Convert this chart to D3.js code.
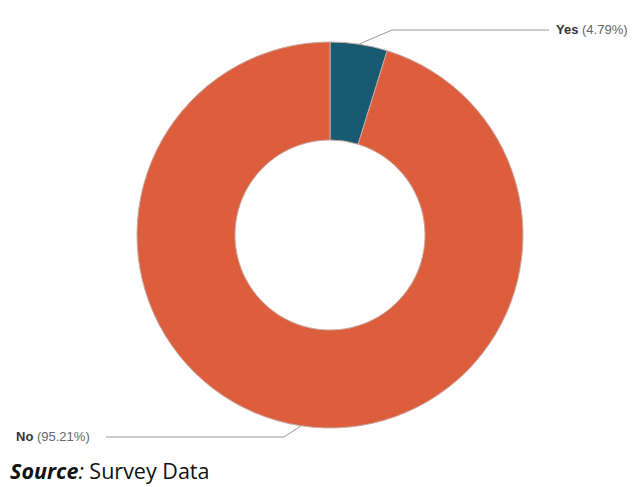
<!DOCTYPE html>
<html>
<head>
<meta charset="utf-8">
<script src="https://cdn.jsdelivr.net/npm/d3@7"></script>
<style>
  body { margin: 0; background: #fff; }
</style>
</head>
<body>
<div id="chart"></div>
<script>
const width = 639
const height = 487

const categories = ["Yes", "No"]
const values = [4.79, 95.21]
const colors = ["#175a72", "#dc5e3c"]

const center = {x: 330, y: 235}
const outerR = 193
const innerR = 95

const svg = d3.select("div#chart").append("svg").attr("width", width).attr("height", height)
const pieGroup = svg.append("g").attr("transform", `translate(${center.x}, ${center.y})`)

const data = categories.map((c, i) => ({name: c, value: values[i]}))
const pie = d3.pie().sort(null).value(d => d.value)
const arc = d3.arc().innerRadius(innerR).outerRadius(outerR)
const color = d3.scaleOrdinal().domain(categories).range(colors)

const arcs = pie(data)

pieGroup.selectAll("path").data(arcs).enter()
    .append("path")
    .attr("d", arc)
    .attr("fill", d => color(d.data.name))
    .attr("stroke", "#c9a9a4")
    .attr("stroke-width", 1)

// leader lines + labels (anchored at slice midpoints)
const labelPos = {
    Yes: {bend: [392, 30], end: [549, 30], text: [556, 34]},
    No: {bend: [284, 437], end: [106, 437], text: [16, 441]}
}

arcs.forEach(a => {
    const p = labelPos[a.data.name]
    const ang = (a.startAngle + a.endAngle) / 2
    const sx = center.x + Math.sin(ang) * outerR
    const sy = center.y - Math.cos(ang) * outerR
    svg.append("polyline")
        .attr("points", [[sx, sy], p.bend, p.end].map(q => q.join(",")).join(" "))
        .attr("fill", "none")
        .attr("stroke", "#9a9a9a")
        .attr("stroke-width", 1)
    const t = svg.append("text")
        .attr("x", p.text[0]).attr("y", p.text[1])
        .attr("font-family", "Liberation Sans, Arial, sans-serif")
        .attr("font-size", 13)
        .attr("fill", "#666")
    t.append("tspan").attr("font-weight", "bold").attr("fill", "#333").text(a.data.name)
    t.append("tspan").text(` (${a.data.value.toFixed(2)}%)`)
})

// source note
const src = svg.append("text")
    .attr("x", 10).attr("y", 479)
    .attr("font-family", "Open Sans, sans-serif")
    .attr("font-size", 21.5)
    .attr("fill", "#111")
src.append("tspan").attr("font-weight", "bold").attr("font-style", "italic").text("Source")
src.append("tspan").attr("font-style", "italic").text(":")
src.append("tspan").text(" Survey Data")
</script>
</body>
</html>
